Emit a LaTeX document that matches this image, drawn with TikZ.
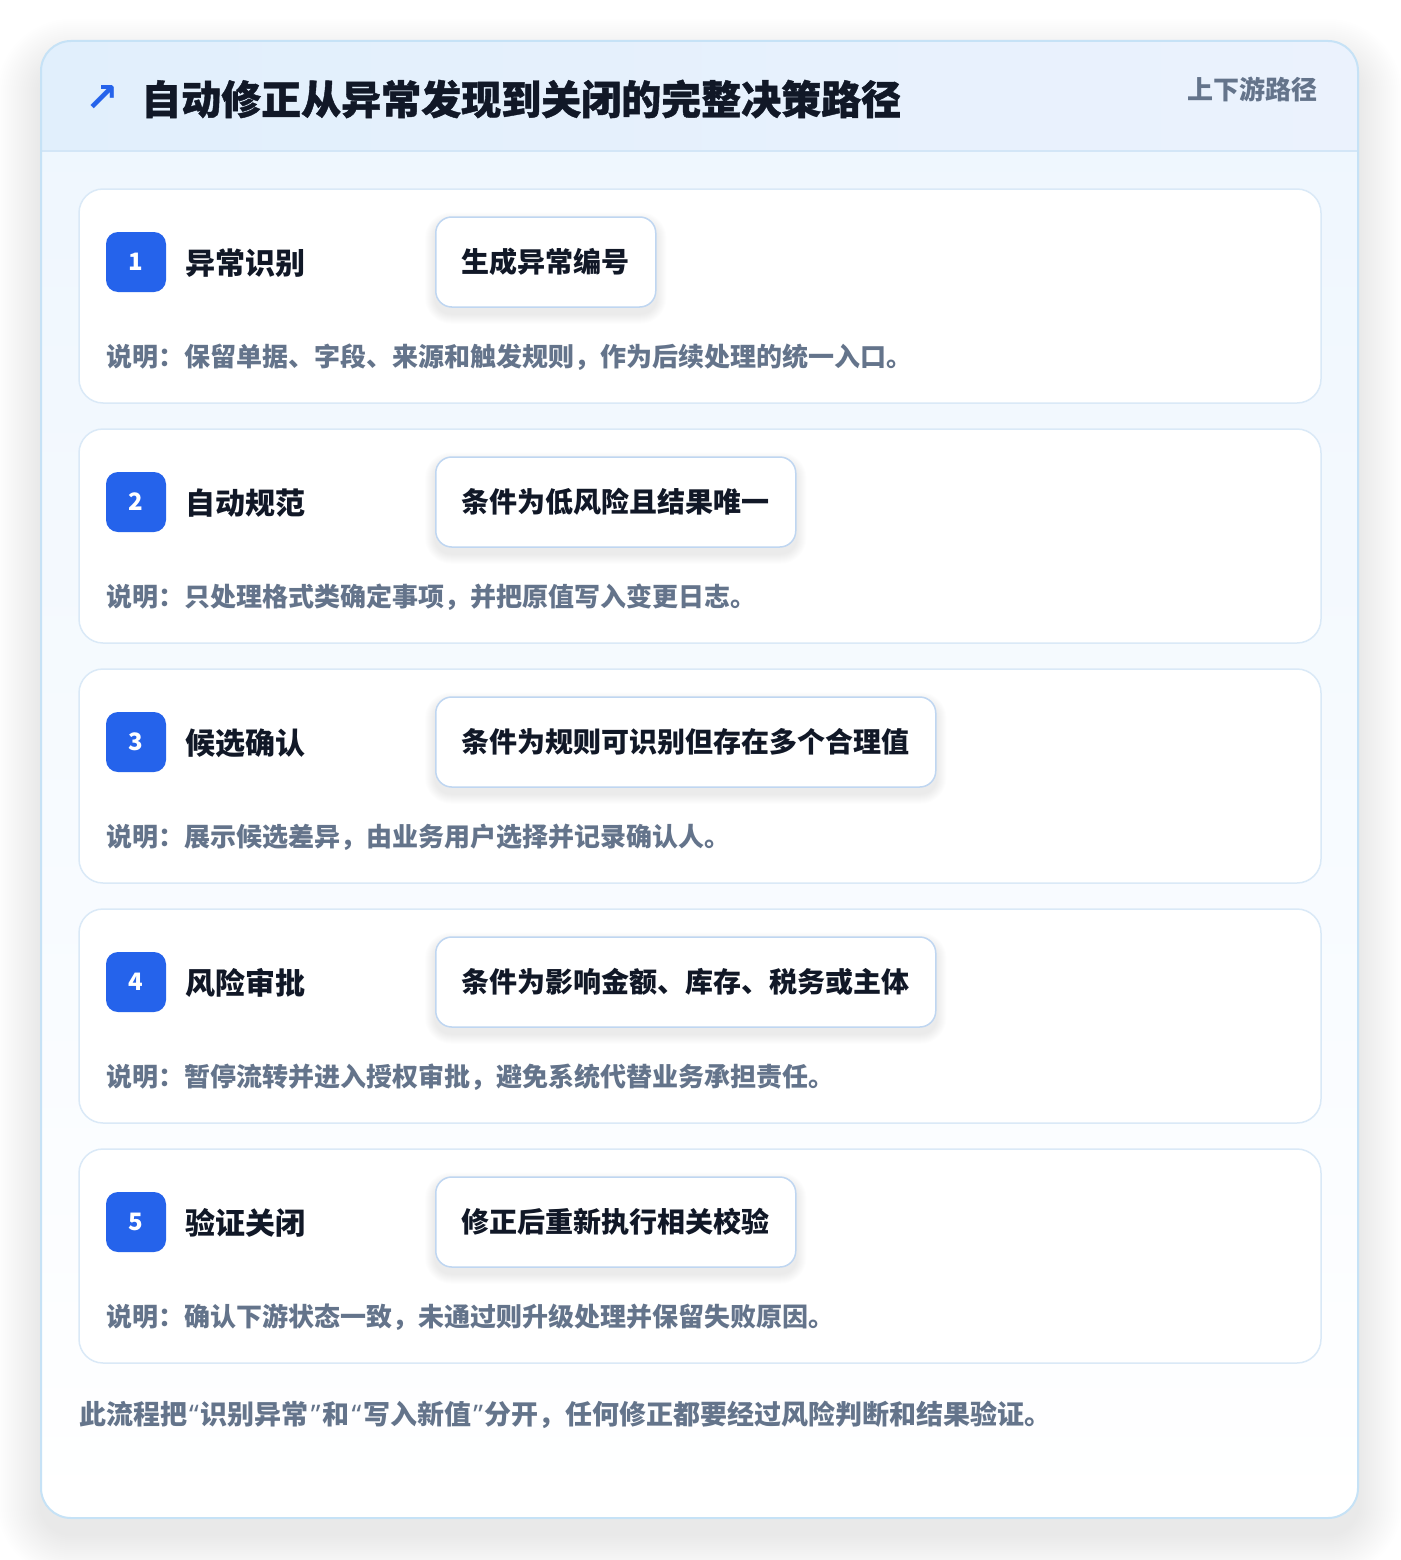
\documentclass[tikz,border=0pt]{standalone}
\usepackage{fontspec}
\setmainfont{Noto Sans CJK SC}
\newfontfamily\dejavu{DejaVu Sans}
\newfontfamily\latinq{Noto Sans}
\usetikzlibrary{calc}
\pgfdeclarelayer{back}
\pgfdeclarelayer{mid}
\pgfsetlayers{back,mid,main}
\definecolor{cardborder}{HTML}{C6E2F6}
\definecolor{hdrL}{HTML}{E1EFFC}
\definecolor{hdrR}{HTML}{EBF2FD}
\definecolor{hdrline}{HTML}{D3E6F7}
\definecolor{bodytop}{HTML}{EEF6FE}
\definecolor{stepborder}{HTML}{DAE9F7}
\definecolor{condborder}{HTML}{BFD6F1}
\definecolor{badgeblue}{HTML}{2563EB}
\definecolor{ink}{HTML}{111827}
\definecolor{muted}{HTML}{64748B}
\definecolor{arrowblue}{HTML}{2563EB}
\definecolor{shadowc}{HTML}{1E293B}
\tikzset{
  stepcard/.style={draw=stepborder, line width=1.5pt, fill=white, rounded corners=24pt,
    minimum width=1242pt, minimum height=214pt, inner sep=0pt},
  badgebox/.style={fill=badgeblue, rounded corners=12pt, minimum width=60pt, minimum height=60pt,
    inner sep=0pt, text=white, font=\bfseries\fontsize{24}{28}\selectfont},
  steptitle/.style={anchor=west, inner sep=0pt, text=ink, font=\bfseries\fontsize{30}{36}\selectfont},
  condbox/.style={anchor=west, draw=condborder, line width=1.5pt, fill=white, rounded corners=16pt,
    minimum height=90pt, inner xsep=26pt, inner ysep=0pt, text=ink,
    font=\bfseries\fontsize{28}{34}\selectfont},
  desctext/.style={anchor=west, inner sep=0pt, text=muted, font=\bfseries\fontsize{26}{32}\selectfont},
}
\newcommand{\myLq}{\kern2pt{\latinq\bfseries “}\kern2pt}
\newcommand{\myRq}{\kern2pt{\latinq\bfseries ”}\kern2pt}
\begin{document}
\begin{tikzpicture}[x=1pt,y=-1pt]
\useasboundingbox (0,0) rectangle (1400,1560);
\begin{pgfonlayer}{back}
\fill[white] (0,0) rectangle (1400,1560);
% outer soft shadow
\foreach \k in {1,...,22} {
  \fill[shadowc, opacity=0.0045, rounded corners=30+2*\k]
    (41-2*\k,41+22-2*\k) rectangle (1358+2*\k,1518+16+2*\k);
}
% card body
\shade[rounded corners=30pt, top color=bodytop, bottom color=white] (41,41) rectangle (1358,1518);
\begin{scope}
  \clip[rounded corners=30pt] (41,41) rectangle (1358,1518);
  \shade[left color=hdrL, right color=hdrR] (41,41) rectangle (1358,151);
  \draw[hdrline, line width=1.5pt] (41,151) -- (1358,151);
\end{scope}
\draw[cardborder, line width=2pt, rounded corners=30pt] (41,41) rectangle (1358,1518);
\end{pgfonlayer}
% header texts
\node (arrow) [anchor=center, inner sep=0pt, text=arrowblue, font=\dejavu\bfseries\fontsize{40}{46}\selectfont] at (102,99) {↗};
\node (title) [anchor=west, inner sep=0pt, text=ink, font=\bfseries\fontsize{40}{48}\selectfont] at (141,99) {\addfontfeature{FakeBold=1}自动修正从异常发现到关闭的完整决策路径};
\node (tag) [anchor=east, inner sep=0pt, text=muted, font=\bfseries\fontsize{26}{32}\selectfont] at (1318,89) {上下游路径};
% steps
\foreach \i/\top/\t/\c/\d in {
  1/189/异常识别/生成异常编号/说明：保留单据、字段、来源和触发规则，作为后续处理的统一入口。,
  2/429/自动规范/条件为低风险且结果唯一/说明：只处理格式类确定事项，并把原值写入变更日志。,
  3/669/候选确认/条件为规则可识别但存在多个合理值/说明：展示候选差异，由业务用户选择并记录确认人。,
  4/909/风险审批/条件为影响金额、库存、税务或主体/说明：暂停流转并进入授权审批，避免系统代替业务承担责任。,
  5/1149/验证关闭/修正后重新执行相关校验/说明：确认下游状态一致，未通过则升级处理并保留失败原因。}
{
  \begin{pgfonlayer}{back}
    \node (card\i) [stepcard] at (700,\top+107) {};
  \end{pgfonlayer}
  \node (badge\i) [badgebox] at (136,\top+73) {\i};
  \node (title\i) [steptitle] at (185,\top+74) {\t};
  \node (cond\i) [condbox] at (435,\top+73) {\c};
  \node (desc\i) [desctext] at (106,\top+168) {\d};
  \begin{pgfonlayer}{mid}
    \foreach \k in {1,...,10} {
      \fill[shadowc, opacity=0.006, rounded corners=16+\k]
        ([xshift=-\k pt, yshift=-6pt+\k pt]cond\i.north west) rectangle ([xshift=\k pt, yshift=-6pt-\k pt]cond\i.south east);
    }
  \end{pgfonlayer}
}
\node (footer) [anchor=west, inner sep=0pt, text=muted, font=\bfseries\fontsize{27}{32}\selectfont] at (79,1415) {此流程把\myLq 识别异常\myRq 和\myLq 写入新值\myRq 分开，任何修正都要经过风险判断和结果验证。};
\end{tikzpicture}
\end{document}
